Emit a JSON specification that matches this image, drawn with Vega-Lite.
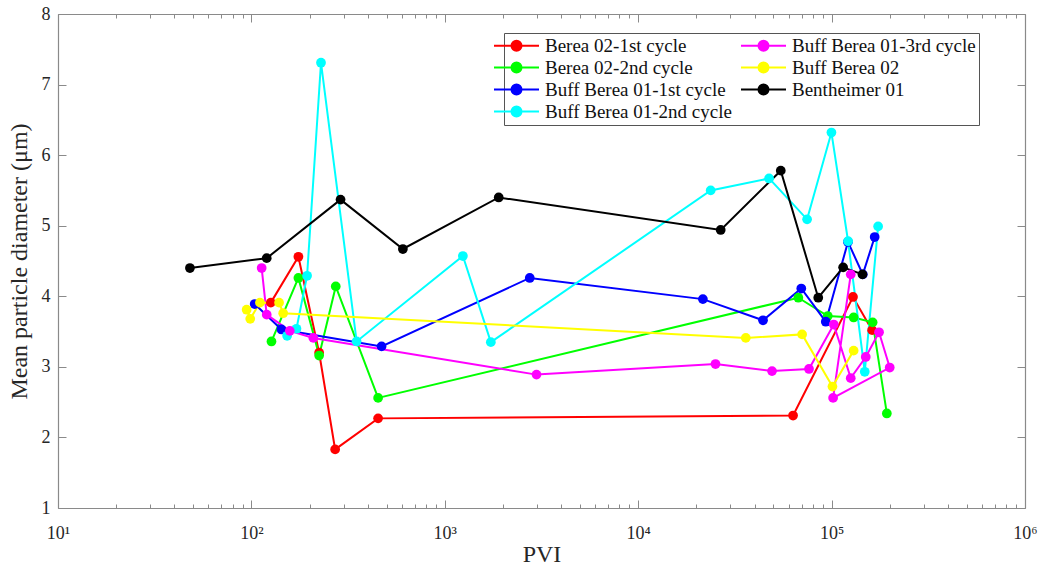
{
  "$schema": "https://vega.github.io/schema/vega-lite/v6.json",
  "width": 967,
  "height": 494,
  "autosize": {"type": "none"},
  "padding": {"left": 58, "top": 14, "right": 21, "bottom": 70},
  "background": "white",
  "config": {
    "font": "Liberation Serif",
    "view": {"stroke": null},
    "axis": {
      "domainColor": "#8a8a8a",
      "tickColor": "#8a8a8a",
      "domainWidth": 1.2,
      "tickWidth": 1,
      "grid": false,
      "labelFont": "Liberation Serif",
      "labelFontSize": 18,
      "labelColor": "#262626",
      "titleFont": "Liberation Serif",
      "titleFontSize": 24,
      "titleFontWeight": "normal",
      "titleColor": "#262626"
    },
    "legend": {
      "orient": "none",
      "legendX": 446,
      "legendY": 19,
      "columns": 2,
      "columnPadding": 5,
      "rowPadding": 2,
      "padding": 3,
      "fillColor": "white",
      "strokeColor": "#555555",
      "labelFont": "Liberation Serif",
      "labelFontSize": 19,
      "labelColor": "#111111",
      "labelOffset": 19,
      "labelLimit": 400,
      "symbolType": "M-4.5,0L4.5,0M-1,0A1,1,0,1,1,1,0A1,1,0,1,1,-1,0Z",
      "symbolSize": 100,
      "symbolStrokeWidth": 2
    }
  },
  "datasets": {
    "pts": [
      {"s": "Berea 02-1st cycle", "i": 1, "x": 126, "y": 3.91},
      {"s": "Berea 02-1st cycle", "i": 2, "x": 175, "y": 4.56},
      {"s": "Berea 02-1st cycle", "i": 3, "x": 224, "y": 3.2},
      {"s": "Berea 02-1st cycle", "i": 4, "x": 271, "y": 1.83},
      {"s": "Berea 02-1st cycle", "i": 5, "x": 452, "y": 2.27},
      {"s": "Berea 02-1st cycle", "i": 6, "x": 63200, "y": 2.31},
      {"s": "Berea 02-1st cycle", "i": 7, "x": 129000, "y": 3.99},
      {"s": "Berea 02-1st cycle", "i": 8, "x": 162000, "y": 3.52},
      {"s": "Berea 02-2nd cycle", "i": 1, "x": 127, "y": 3.36},
      {"s": "Berea 02-2nd cycle", "i": 2, "x": 175, "y": 4.26},
      {"s": "Berea 02-2nd cycle", "i": 3, "x": 224, "y": 3.16},
      {"s": "Berea 02-2nd cycle", "i": 4, "x": 273, "y": 4.14},
      {"s": "Berea 02-2nd cycle", "i": 5, "x": 452, "y": 2.56},
      {"s": "Berea 02-2nd cycle", "i": 6, "x": 67300, "y": 3.98},
      {"s": "Berea 02-2nd cycle", "i": 7, "x": 95500, "y": 3.72},
      {"s": "Berea 02-2nd cycle", "i": 8, "x": 130000, "y": 3.7},
      {"s": "Berea 02-2nd cycle", "i": 9, "x": 163000, "y": 3.63},
      {"s": "Berea 02-2nd cycle", "i": 10, "x": 193000, "y": 2.34},
      {"s": "Buff Berea 01-1st cycle", "i": 1, "x": 104, "y": 3.89},
      {"s": "Buff Berea 01-1st cycle", "i": 2, "x": 143, "y": 3.53},
      {"s": "Buff Berea 01-1st cycle", "i": 3, "x": 471, "y": 3.29},
      {"s": "Buff Berea 01-1st cycle", "i": 4, "x": 2750, "y": 4.26},
      {"s": "Buff Berea 01-1st cycle", "i": 5, "x": 21600, "y": 3.96},
      {"s": "Buff Berea 01-1st cycle", "i": 6, "x": 44200, "y": 3.66},
      {"s": "Buff Berea 01-1st cycle", "i": 7, "x": 69700, "y": 4.11},
      {"s": "Buff Berea 01-1st cycle", "i": 8, "x": 93300, "y": 3.64},
      {"s": "Buff Berea 01-1st cycle", "i": 9, "x": 121500, "y": 4.77},
      {"s": "Buff Berea 01-1st cycle", "i": 10, "x": 145000, "y": 4.31},
      {"s": "Buff Berea 01-1st cycle", "i": 11, "x": 167000, "y": 4.84},
      {"s": "Buff Berea 01-2nd cycle", "i": 1, "x": 153, "y": 3.44},
      {"s": "Buff Berea 01-2nd cycle", "i": 2, "x": 171, "y": 3.54},
      {"s": "Buff Berea 01-2nd cycle", "i": 3, "x": 194, "y": 4.29},
      {"s": "Buff Berea 01-2nd cycle", "i": 4, "x": 229, "y": 7.31},
      {"s": "Buff Berea 01-2nd cycle", "i": 5, "x": 350, "y": 3.36},
      {"s": "Buff Berea 01-2nd cycle", "i": 6, "x": 1240, "y": 4.57},
      {"s": "Buff Berea 01-2nd cycle", "i": 7, "x": 1730, "y": 3.35},
      {"s": "Buff Berea 01-2nd cycle", "i": 8, "x": 23700, "y": 5.5},
      {"s": "Buff Berea 01-2nd cycle", "i": 9, "x": 47500, "y": 5.67},
      {"s": "Buff Berea 01-2nd cycle", "i": 10, "x": 74700, "y": 5.09},
      {"s": "Buff Berea 01-2nd cycle", "i": 11, "x": 99800, "y": 6.32},
      {"s": "Buff Berea 01-2nd cycle", "i": 12, "x": 121700, "y": 4.78},
      {"s": "Buff Berea 01-2nd cycle", "i": 13, "x": 148400, "y": 2.93},
      {"s": "Buff Berea 01-2nd cycle", "i": 14, "x": 174000, "y": 4.99},
      {"s": "Buff Berea 01-3rd cycle", "i": 1, "x": 113, "y": 4.4},
      {"s": "Buff Berea 01-3rd cycle", "i": 2, "x": 120, "y": 3.74},
      {"s": "Buff Berea 01-3rd cycle", "i": 3, "x": 158, "y": 3.51},
      {"s": "Buff Berea 01-3rd cycle", "i": 4, "x": 209, "y": 3.41},
      {"s": "Buff Berea 01-3rd cycle", "i": 5, "x": 2980, "y": 2.89},
      {"s": "Buff Berea 01-3rd cycle", "i": 6, "x": 25100, "y": 3.04},
      {"s": "Buff Berea 01-3rd cycle", "i": 7, "x": 49200, "y": 2.94},
      {"s": "Buff Berea 01-3rd cycle", "i": 8, "x": 76400, "y": 2.97},
      {"s": "Buff Berea 01-3rd cycle", "i": 9, "x": 102600, "y": 3.6},
      {"s": "Buff Berea 01-3rd cycle", "i": 10, "x": 125600, "y": 2.84},
      {"s": "Buff Berea 01-3rd cycle", "i": 11, "x": 150200, "y": 3.14},
      {"s": "Buff Berea 01-3rd cycle", "i": 12, "x": 175900, "y": 3.49},
      {"s": "Buff Berea 01-3rd cycle", "i": 13, "x": 199800, "y": 2.99},
      {"s": "Buff Berea 01-3rd cycle", "i": 14, "x": 101800, "y": 2.56},
      {"s": "Buff Berea 01-3rd cycle", "i": 15, "x": 125600, "y": 4.31},
      {"s": "Buff Berea 02", "i": 1, "x": 94.5, "y": 3.81},
      {"s": "Buff Berea 02", "i": 2, "x": 98.6, "y": 3.68},
      {"s": "Buff Berea 02", "i": 3, "x": 110.7, "y": 3.91},
      {"s": "Buff Berea 02", "i": 4, "x": 139, "y": 3.91},
      {"s": "Buff Berea 02", "i": 5, "x": 146, "y": 3.76},
      {"s": "Buff Berea 02", "i": 6, "x": 36000, "y": 3.41},
      {"s": "Buff Berea 02", "i": 7, "x": 70400, "y": 3.46},
      {"s": "Buff Berea 02", "i": 8, "x": 101000, "y": 2.72},
      {"s": "Buff Berea 02", "i": 9, "x": 130000, "y": 3.23},
      {"s": "Bentheimer 01", "i": 1, "x": 48.1, "y": 4.4},
      {"s": "Bentheimer 01", "i": 2, "x": 120, "y": 4.54},
      {"s": "Bentheimer 01", "i": 3, "x": 289, "y": 5.37},
      {"s": "Bentheimer 01", "i": 4, "x": 607, "y": 4.67},
      {"s": "Bentheimer 01", "i": 5, "x": 1900, "y": 5.4},
      {"s": "Bentheimer 01", "i": 6, "x": 26700, "y": 4.94},
      {"s": "Bentheimer 01", "i": 7, "x": 54600, "y": 5.78},
      {"s": "Bentheimer 01", "i": 8, "x": 85300, "y": 3.98},
      {"s": "Bentheimer 01", "i": 9, "x": 114700, "y": 4.41},
      {"s": "Bentheimer 01", "i": 10, "x": 144400, "y": 4.31}
    ]
  },
  "data": {"name": "pts"},
  "layer": [
    {
      "mark": {"type": "line", "strokeWidth": 2},
      "encoding": {
        "x": {
          "field": "x", "type": "quantitative",
          "scale": {"type": "log", "domain": [10, 1000000], "nice": false},
          "axis": {
            "orient": "bottom",
            "values": [10, 100, 1000, 10000, 100000, 1000000],
            "labelExpr": "'10' + ['⁰','¹','²','³','⁴','⁵','⁶'][round(log(datum.value)/LN10)]",
            "tickSize": -8, "labelPadding": 24, "title": "PVI", "titlePadding": 0,
            "labelFlush": false
          }
        },
        "y": {
          "field": "y", "type": "quantitative",
          "scale": {"domain": [1, 8], "nice": false, "zero": false},
          "axis": {
            "orient": "left",
            "values": [1, 2, 3, 4, 5, 6, 7, 8],
            "tickSize": -8, "labelPadding": 16,
            "title": "Mean particle diameter (μm)", "titlePadding": 10
          }
        },
        "color": {
          "field": "s", "type": "nominal",
          "scale": {
            "domain": ["Berea 02-1st cycle", "Berea 02-2nd cycle", "Buff Berea 01-1st cycle", "Buff Berea 01-2nd cycle", "Buff Berea 01-3rd cycle", "Buff Berea 02", "Bentheimer 01"],
            "range": ["#ff0000", "#00ff00", "#0000ff", "#00ffff", "#ff00ff", "#ffff00", "#000000"]
          },
          "legend": {
            "title": null,
            "encode": {
              "symbols": {
                "update": {
                  "fill": {"scale": "color", "field": "value"},
                  "stroke": {"scale": "color", "field": "value"},
                  "strokeWidth": {"value": 2},
                  "opacity": {"value": 1}
                }
              }
            }
          }
        },
        "order": {"field": "i", "type": "quantitative"}
      }
    },
    {
      "mark": {"type": "point", "filled": true, "size": 95, "opacity": 1},
      "encoding": {
        "x": {
          "field": "x", "type": "quantitative",
          "axis": {"orient": "top", "values": [10, 100, 1000, 10000, 100000, 1000000], "labels": false, "tickSize": -8, "title": null}
        },
        "y": {
          "field": "y", "type": "quantitative",
          "axis": {"orient": "right", "values": [1, 2, 3, 4, 5, 6, 7, 8], "labels": false, "tickSize": -8, "title": null}
        },
        "color": {"field": "s", "type": "nominal", "legend": null}
      }
    },
    {
      "mark": {"type": "point", "opacity": 0},
      "encoding": {
        "x": {
          "field": "x", "type": "quantitative",
          "axis": {"orient": "bottom", "values": [20,30,40,50,60,70,80,90,200,300,400,500,600,700,800,900,2000,3000,4000,5000,6000,7000,8000,9000,20000,30000,40000,50000,60000,70000,80000,90000,200000,300000,400000,500000,600000,700000,800000,900000], "labels": false, "domain": false, "tickSize": -4, "title": null}
        },
        "y": {"field": "y", "type": "quantitative", "axis": null}
      }
    },
    {
      "mark": {"type": "point", "opacity": 0},
      "encoding": {
        "x": {
          "field": "x", "type": "quantitative",
          "axis": {"orient": "top", "values": [20,30,40,50,60,70,80,90,200,300,400,500,600,700,800,900,2000,3000,4000,5000,6000,7000,8000,9000,20000,30000,40000,50000,60000,70000,80000,90000,200000,300000,400000,500000,600000,700000,800000,900000], "labels": false, "domain": false, "tickSize": -4, "title": null}
        },
        "y": {"field": "y", "type": "quantitative", "axis": null}
      }
    }
  ],
  "resolve": {"axis": {"x": "independent", "y": "independent"}, "legend": {"color": "independent"}}
}
